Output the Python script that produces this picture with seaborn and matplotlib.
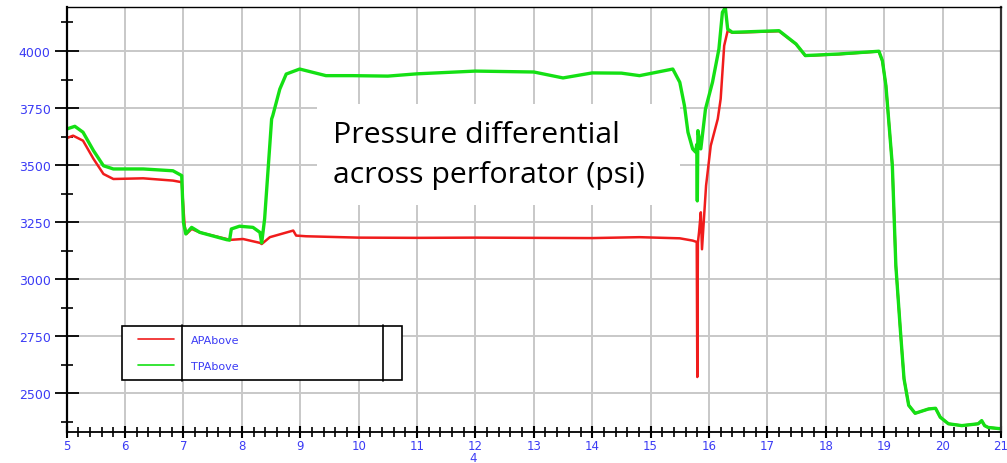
import numpy as np
import pandas as pd
import matplotlib
matplotlib.use("Agg")
import matplotlib.pyplot as plt
from matplotlib.patches import Rectangle
from matplotlib.lines import Line2D
from matplotlib.legend_handler import HandlerLine2D
import seaborn as sns

# ---- data ----
ap_x = [5.00, 5.11, 5.28, 5.46, 5.63, 5.80, 6.31, 6.82, 6.97, 7.02, 7.05, 7.14, 7.28,
        7.74, 7.79, 8.02, 8.31, 8.34, 8.48, 8.88, 8.93, 9.10, 10.0, 11.0, 12.0, 13.0,
        14.0, 14.81, 15.50, 15.72, 15.79, 15.80, 15.81, 15.83, 15.86, 15.88, 15.95,
        16.03, 16.15, 16.20, 16.26, 16.32, 16.40, 17.20, 17.49, 17.65, 18.23, 18.91,
        18.97, 19.03, 19.14, 19.20, 19.28, 19.34, 19.42, 19.53, 19.76, 19.88, 19.96,
        20.10, 20.33, 20.61, 20.67, 20.72, 20.78, 21.00]
ap_y = [3618, 3629, 3607, 3527, 3461, 3439, 3442, 3432, 3425, 3234, 3198, 3220, 3205,
        3176, 3172, 3176, 3159, 3154, 3184, 3213, 3191, 3188, 3182, 3181, 3182, 3181,
        3180, 3184, 3179, 3169, 3163, 2571, 3160, 3207, 3293, 3131, 3410,
        3585, 3702, 3790, 4023, 4089, 4080, 4087, 4030, 3979, 3986, 3998,
        3956, 3848, 3497, 3059, 2767, 2563, 2447, 2412, 2431, 2434, 2395,
        2366, 2358, 2366, 2378, 2358, 2350, 2344]

tp_x = [5.00, 5.14, 5.28, 5.46, 5.63, 5.80, 6.31, 6.82, 6.97, 7.00, 7.04, 7.14, 7.28,
        7.74, 7.79, 7.82, 7.96, 8.19, 8.31, 8.34, 8.39, 8.51, 8.53, 8.65, 8.76, 8.99,
        9.44, 9.90, 10.5, 11.0, 12.0, 13.0, 13.5, 14.0, 14.5, 14.81, 15.38, 15.50,
        15.58, 15.64, 15.72, 15.77, 15.79, 15.80, 15.81, 15.86, 15.94, 16.06, 16.17,
        16.23, 16.28, 16.32, 16.40, 17.20, 17.49, 17.65, 18.23, 18.91, 18.97, 19.03,
        19.14, 19.20, 19.28, 19.34, 19.42, 19.53, 19.76, 19.88, 19.96, 20.10, 20.33,
        20.61, 20.67, 20.72, 20.78, 21.00]
tp_y = [3658, 3670, 3644, 3563, 3497, 3483, 3483, 3475, 3454, 3249, 3198, 3227, 3205,
        3173, 3171, 3220, 3232, 3227, 3205, 3159, 3264, 3702, 3717, 3833, 3899, 3921,
        3892, 3892, 3890, 3900, 3912, 3908, 3882, 3904, 3903, 3892, 3921, 3863,
        3760, 3644, 3571, 3557, 3590, 3343, 3651, 3571, 3746, 3863, 4009,
        4170, 4190, 4096, 4082, 4089, 4031, 3980, 3987, 3999, 3957, 3848,
        3497, 3059, 2767, 2563, 2447, 2412, 2431, 2434, 2395, 2366, 2358,
        2366, 2380, 2358, 2350, 2344]

series_names = ["APAbove", "TPAbove"]
series_colors = ["#f01c1c", "#14e014"]
x_major = list(range(5, 22))
y_major = [2500, 2750, 3000, 3250, 3500, 3750, 4000]
annotation = "Pressure differential\nacross perforator (psi)"
x_label = "4"

df = pd.concat([
    pd.DataFrame({"t": ap_x, "p": ap_y, "series": series_names[0]}),
    pd.DataFrame({"t": tp_x, "p": tp_y, "series": series_names[1]}),
], ignore_index=True)

sns.set_theme(style="white")
plt.rcParams["font.family"] = ["DejaVu Sans"]
blue = "#3b3bf5"

fig = plt.figure(figsize=(10.07, 4.64), dpi=100)
ax = fig.add_axes([0.0662, 0.0668, 0.9940 - 0.0662, 0.9828 - 0.0668])

sns.lineplot(data=df, x="t", y="p", hue="series", hue_order=series_names,
             palette=series_colors, estimator=None, sort=False, ax=ax, legend=True)
for ln, lw in zip(ax.get_lines()[:2], [1.8, 2.4]):
    ln.set_linewidth(lw)

ax.set_xlim(5, 21)
ax.set_ylim(2330, 4193)
ax.set_xticks(x_major)
ax.set_yticks(y_major)
ax.set_xticks(np.arange(5, 21.001, 0.2), minor=True)
ax.set_yticks(np.arange(2375, 4193, 250), minor=True)
ax.grid(True, which="major", color="#c8c8c8", linewidth=1.4)
ax.grid(False, which="minor")
ax.set_axisbelow(True)

ax.tick_params(axis="y", which="major", direction="inout", length=17, width=1.3,
               color="black", labelcolor=blue, labelsize=9, pad=3.0, left=True)
ax.tick_params(axis="y", which="minor", direction="inout", length=8.5, width=1.2,
               color="black", left=True)
ax.tick_params(axis="x", which="major", direction="inout", length=8.8, width=1.5,
               color="black", labelcolor=blue, labelsize=8.5, pad=0.8, bottom=True)
ax.tick_params(axis="x", which="minor", direction="inout", length=6.5, width=1.2,
               color="black", bottom=True)

for side, lw, col in [("left", 1.6, "black"), ("bottom", 1.3, "black"),
                      ("top", 1.0, "black"), ("right", 1.6, "#333333")]:
    ax.spines[side].set_visible(True)
    ax.spines[side].set_linewidth(lw)
    ax.spines[side].set_color(col)

ax.set_ylabel("")
ax.set_xlabel(x_label, color=blue, fontsize=8.5)
ax.xaxis.set_label_coords(0.435, -0.045)

# annotation box
ax.add_patch(Rectangle((0.2679, 0.5341), 0.6564 - 0.2679, 0.7718 - 0.5341,
                       transform=ax.transAxes, facecolor="white", edgecolor="none",
                       zorder=4))
ax.text((333 - 66.7) / 934.3, (433 - 121) / 425, annotation, transform=ax.transAxes,
        family=["Open Sans", "DejaVu Sans"], fontsize=21.8, color="black", ha="left", va="top",
        linespacing=1.52, zorder=5)

# legend
handles, labels = ax.get_legend_handles_labels()
leg = ax.legend(handles, labels, loc="center left",
                bbox_to_anchor=(0.0592, 0.12, 0.2997, 0.1318), mode="expand",
                borderaxespad=0, fancybox=False, framealpha=1, edgecolor="black",
                fontsize=8, handlelength=3.9, handletextpad=1.5, labelspacing=1.45,
                borderpad=0.8,
                handler_map={Line2D: HandlerLine2D(xpad=0.6)})
leg.get_frame().set_linewidth(1.2)
for t in leg.get_texts():
    t.set_color(blue)
for h in leg.legend_handles:
    h.set_linewidth(1.2)
for xf in [182 / 1007, 383 / 1007]:
    fig.add_artist(Line2D([xf, xf], [(464 - 382) / 464, (464 - 326) / 464],
                          transform=fig.transFigure, color="black", lw=1.2, zorder=10))

fig.savefig("out.png", dpi=100)
